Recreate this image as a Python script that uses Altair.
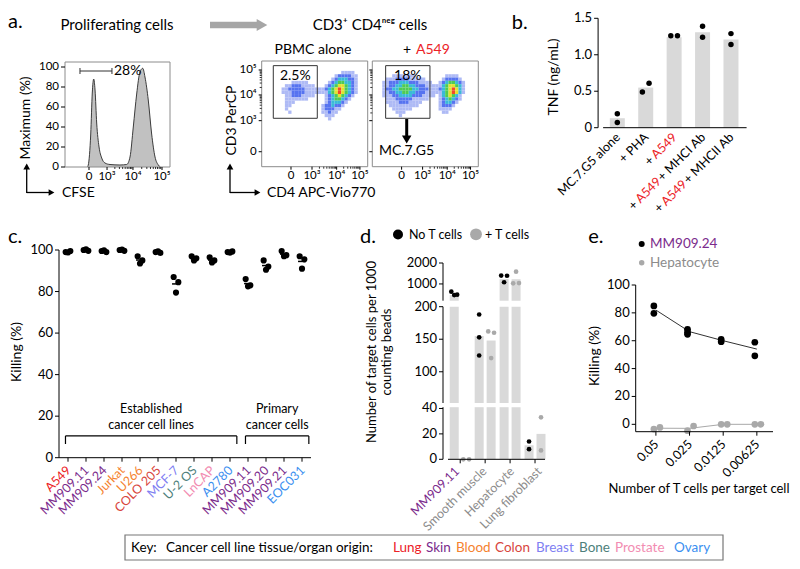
import re
import math
import altair as alt
import pandas as pd

W, H = 784, 553
FONT = "Lato"

# ============================ DATA ============================
# (a) CFSE histogram: display channel (0-1024) vs % of maximum
hist_channel = [218, 227, 251, 266, 280, 293, 309, 332, 358, 390, 439, 536, 602,
                634, 666, 699, 731, 758, 780, 812, 845, 878, 910, 930]
hist_pct = [0, 2, 33, 74, 88, 77, 44, 20, 9, 4, 2.5, 2, 2.5,
            10, 40, 73, 95, 98.7, 90, 67, 33, 10, 2, 0]
hist_gate_channels = [146, 458]
hist_gate_pct = 96
hist_gate_label = "28%"

decade_labels = ["0", "10³", "10⁴", "10⁵"]
hist_decade_channels = [234, 410, 663, 946]
flow_cd4_decade_channels = [283, 486, 724, 949]
flow_cd3_decade_channels = [145, 446, 695, 937]

flow_gate_labels = ["2.5%", "18%"]
flow_gates = [[112, 537, 469, 979], [129, 557, 469, 979]]  # CD4 lo/hi, CD3 lo/hi
flow_bin = 32
flow_top_rows = [28, 27]
# density maps (rows from top, one char per 32-channel bin, '.' = empty, 1-6 = density level)
flow1_density = [
    "........................1111....",
    "......................1222211...",
    ".....................12333221...",
    ".........11111......123443321...",
    ".......112221111...1234554321...",
    "......11222221111112345654321...",
    "......11122221111111345654321...",
    ".......112221111...123454321....",
    ".......1111111.....12344321.....",
    ".......111.........1233321......",
    ".......11.........1223221.......",
    ".......1..........122211........",
    "........1.........11211.........",
    "...................111..........",
    "....................1...........",
]
flow2_density = [
    "......1111111.........1111......",
    "....111222211111.....122221.....",
    "...112223332221111..12344321....",
    "...1122334433222111113455431....",
    "...1223344443322211123456531....",
    "...1122334433222111113456531....",
    "...1112233332221111.1345431.....",
    "....1112222211111...1234321.....",
    "....11112221111.....123321......",
    ".....111111111......12221.......",
    "......111111........1111........",
    ".......111...........11.........",
    "........1.......................",
]

# (b) TNF release
b_conditions = ["MC.7.G5 alone", "+ PHA", "+ A549", "+ A549 + MHCI Ab", "+ A549 + MHCII Ab"]
b_tnf_mean = [0.13, 0.55, 1.24, 1.31, 1.21]
b_rep1 = [0.19, 0.49, 1.26, 1.39, 1.29]
b_rep2 = [0.07, 0.61, 1.26, 1.24, 1.14]
b_rep_layout = ["stack", "side", "side", "stack", "stack"]
b_ticks = [0, 0.5, 1.0, 1.5]

# (c) killing of cancer lines
c_lines = ["A549", "MM909.11", "MM909.24", "Jurkat", "U266", "COLO 205", "MCF-7",
           "U-2 OS", "LnCAP", "A2780", "MM909.11", "MM909.20", "MM909.21", "EOC031"]
c_origin = ["Lung", "Skin", "Skin", "Blood", "Blood", "Colon", "Breast",
            "Bone", "Prostate", "Ovary", "Skin", "Skin", "Skin", "Ovary"]
c_rep1 = [99.0, 100.0, 99.5, 100.0, 97.0, 99.0, 87.0, 97.0, 96.5, 99.0, 86.0, 95.0, 99.5, 97.0]
c_rep2 = [99.5, 99.6, 99.0, 99.6, 95.0, 98.6, 84.5, 96.0, 95.0, 99.3, 83.0, 92.0, 97.5, 95.5]
c_rep3 = [98.8, 100.3, 99.8, 100.2, 93.5, 99.4, 79.5, 95.0, 94.0, 98.7, 82.5, 90.5, 97.0, 91.0]
c_groups = ["Established\ncancer cell lines", "Primary\ncancer cells"]
c_group_first = [0, 10]
c_group_last = [9, 13]
pct_ticks = [0, 20, 40, 60, 80, 100]

# (d) target cell counts
d_targets = ["MM909.11", "Smooth muscle", "Hepatocyte", "Lung fibroblast"]
d_bar_noT = [470, 155, 1236, 11]
d_bar_T = [0, 148, 1220, 20]
d_pts_noT = [[630, 490, 470], [188, 153, 125], [1400, 1390, 1080], [14, 8]]
d_side_noT = [["L", "R", "C"], ["C", "C", "C"], ["L", "R", "C"], ["C", "C"]]
d_pts_T = [[0, 0], [162, 160, 121], [1585, 1030, 1040], [33, 7]]
d_side_T = [["L", "R"], ["L", "R", "C"], ["C", "L", "R"], ["C", "C"]]

# (e) titration
e_ratio = ["0.05", "0.025", "0.0125", "0.00625"]
e_mm_mean = [82, 66.5, 60, 54]
e_mm_pts = [[85, 79.7], [68.2, 66.1, 64.6], [61, 59.3], [58.9, 49.2]]
e_hep_mean = [-2.8, -2.9, 0, 0]
e_hep_pts = [[-3.4, -2.2], [-4.6, -1.2], [0, 0], [0, 0]]

key_tissues = ["Lung", "Skin", "Blood", "Colon", "Breast", "Bone", "Prostate", "Ovary"]

# ============================ STYLE ============================
TISSUE_COLORS = {"Lung": "#ec2227", "Skin": "#7b2b8c", "Blood": "#f5822f", "Colon": "#d8453d",
                 "Breast": "#8080f2", "Bone": "#4e7f7b", "Prostate": "#f28db2", "Ovary": "#3c8ff0"}
RED = "#ec2227"
PURPLE = "#7b2b8c"
GREY_TXT = "#8c8c8c"
BAR = "#d9d9d9"
PT_GREY = "#a9a9a9"
FRAME = "#8c8c8c"
DENS_COLORS = ["#aab6f4", "#4d6bef", "#2fb6d6", "#45c84a", "#e2e023", "#f0401f"]
JIT = {"L": -0.13, "C": 0.0, "R": 0.13}
LBL = 12.5
TICKLBL = 12.5
LATO_EM = {" ": 0.193, "+": 0.58, "A": 0.68, "M": 0.89, "H": 0.76, "C": 0.66, "I": 0.30,
           "b": 0.565, "P": 0.64, "G": 0.72}
for d_ in "0123456789":
    LATO_EM[d_] = 0.58


def text_w(s, size):
    return size * sum(LATO_EM.get(ch, 0.55) for ch in s)


one = pd.DataFrame({"_": [0]})


def note(text, x, y, size=14, color="black", align="left", angle=0, baseline="middle"):
    kw = dict(text=text, fontSize=size, color=color, align=align, baseline=baseline, font=FONT)
    if angle:
        kw["angle"] = angle
    return alt.Chart(one).mark_text(**kw).encode(x=alt.value(x), y=alt.value(y))


def seg(x1, y1, x2, y2, color="black", width=1.3):
    return alt.Chart(one).mark_rule(color=color, strokeWidth=width).encode(
        x=alt.value(x1), y=alt.value(y1), x2=alt.value(x2), y2=alt.value(y2))


def head(x, y, shape, size, color="black"):
    return alt.Chart(one).mark_point(shape=shape, size=size, filled=True, color=color,
                                     opacity=1, strokeWidth=0).encode(x=alt.value(x), y=alt.value(y))


def S(domain, rng):
    return alt.Scale(domain=domain, range=rng, nice=False, zero=False)


def x_axis(scale, y, values, labels=None, domain=None, size=TICKLBL, tick=4, dom_color="black",
           tick_w=1, pad=1.5):
    out = []
    if domain:
        out.append(alt.Chart(pd.DataFrame({"a": [domain[0]], "b": [domain[1]]})).mark_rule(
            color=dom_color, strokeWidth=1).encode(
            x=alt.X("a:Q", scale=scale, axis=None), x2="b:Q", y=alt.value(y)))
    if tick > 0:
        out.append(alt.Chart(pd.DataFrame({"v": values})).mark_rule(color="black", strokeWidth=tick_w).encode(
            x=alt.X("v:Q", scale=scale, axis=None), y=alt.value(y), y2=alt.value(y + tick)))
    if labels:
        out.append(alt.Chart(pd.DataFrame({"v": values, "t": labels})).mark_text(
            baseline="top", fontSize=size, font=FONT, color="black").encode(
            x=alt.X("v:Q", scale=scale, axis=None), y=alt.value(y + tick + pad), text="t:N"))
    return out


def y_axis(scale, x, values, labels=None, domain=None, size=TICKLBL, tick=4, dom_color="black", tick_w=1):
    out = []
    if domain:
        out.append(alt.Chart(pd.DataFrame({"a": [domain[0]], "b": [domain[1]]})).mark_rule(
            color=dom_color, strokeWidth=1).encode(
            y=alt.Y("a:Q", scale=scale, axis=None), y2="b:Q", x=alt.value(x)))
    out.append(alt.Chart(pd.DataFrame({"v": values})).mark_rule(color="black", strokeWidth=tick_w).encode(
        y=alt.Y("v:Q", scale=scale, axis=None), x=alt.value(x - tick), x2=alt.value(x)))
    if labels:
        out.append(alt.Chart(pd.DataFrame({"v": values, "t": labels})).mark_text(
            align="right", baseline="middle", fontSize=size, font=FONT, color="black").encode(
            y=alt.Y("v:Q", scale=scale, axis=None), x=alt.value(x - tick - 2), text="t:N"))
    return out


def minor_channels(decades):
    # log-spaced minor tick positions between consecutive decade channels (2x..9x)
    res = []
    for a, b in zip(decades[1:-1], decades[2:]):
        for m in range(2, 10):
            res.append(a + (b - a) * math.log10(m))
    return res


layers = []

# ============================ PANEL a ============================
hx = S([0, 1024], [57, 162])
hy = S([0, 105], [159, 54])
hist_df = pd.DataFrame({"ch": hist_channel, "pct": hist_pct})
hist = alt.Chart(hist_df).mark_area(color="#a6a6a6", interpolate="monotone",
                                    line={"color": "#3c3c3c", "strokeWidth": 1}).encode(
    x=alt.X("ch:Q", scale=hx, axis=None), y=alt.Y("pct:Q", scale=hy, axis=None))
hframe = alt.Chart(pd.DataFrame({"a": [0], "b": [1024], "c": [0], "d": [105]})).mark_rect(
    fillOpacity=0, stroke=FRAME, strokeWidth=1).encode(
    x=alt.X("a:Q", scale=hx, axis=None), x2="b:Q", y=alt.Y("c:Q", scale=hy, axis=None), y2="d:Q")
gate_df = pd.DataFrame({"x0": [hist_gate_channels[0]], "x1": [hist_gate_channels[1]],
                        "y": [hist_gate_pct], "lab": [hist_gate_label]})
hgate = alt.Chart(gate_df).mark_rule(color="#333", strokeWidth=1).encode(
    x=alt.X("x0:Q", scale=hx, axis=None), x2="x1:Q", y=alt.Y("y:Q", scale=hy, axis=None))
caps_df = pd.DataFrame({"x": hist_gate_channels, "y0": [hist_gate_pct - 3] * 2, "y1": [hist_gate_pct + 3] * 2})
hcaps = alt.Chart(caps_df).mark_rule(color="#333", strokeWidth=1).encode(
    x=alt.X("x:Q", scale=hx, axis=None), y=alt.Y("y0:Q", scale=hy, axis=None), y2="y1:Q")
hlab = alt.Chart(gate_df).mark_text(align="left", baseline="middle", fontSize=14, font=FONT, dx=2).encode(
    x=alt.X("x1:Q", scale=hx, axis=None), y=alt.Y("y:Q", scale=hy, axis=None), text="lab:N")
hist_layers = [hist, hframe, hgate, hcaps, hlab]
hist_layers += x_axis(hx, 159, hist_decade_channels, decade_labels, size=11.5, tick=3, pad=0.5)
hist_layers += x_axis(hx, 159, minor_channels(hist_decade_channels), tick=2, tick_w=0.8)
hist_layers += y_axis(hy, 57, pct_ticks, [str(v) for v in pct_ticks], size=11.5)
layers.append(alt.layer(*hist_layers))


def density_df(rows, top):
    recs = []
    for k, row in enumerate(rows):
        r = top - k
        for c, ch in enumerate(row):
            if ch != ".":
                recs.append({"x0": c * flow_bin, "x1": (c + 1) * flow_bin,
                             "y0": r * flow_bin, "y1": (r + 1) * flow_bin, "lvl": int(ch)})
    return pd.DataFrame(recs)


def flow_panel(rows, top, xr, gate, gate_label, ylabels):
    fx = S([0, 1024], xr)
    fy = S([0, 1024], [158.7, 53])
    df = density_df(rows, top)
    cells = alt.Chart(df).mark_rect(opacity=0.95).encode(
        x=alt.X("x0:Q", scale=fx, axis=None), x2="x1:Q",
        y=alt.Y("y0:Q", scale=fy, axis=None), y2="y1:Q",
        color=alt.Color("lvl:O", scale=alt.Scale(domain=[1, 2, 3, 4, 5, 6], range=DENS_COLORS), legend=None))
    frame = alt.Chart(pd.DataFrame({"a": [0], "b": [1024], "c": [0], "d": [1024]})).mark_rect(
        fillOpacity=0, stroke=FRAME, strokeWidth=1).encode(
        x=alt.X("a:Q", scale=fx, axis=None), x2="b:Q", y=alt.Y("c:Q", scale=fy, axis=None), y2="d:Q")
    gdf = pd.DataFrame({"a": [gate[0]], "b": [gate[1]], "c": [gate[2]], "d": [gate[3]],
                        "mx": [(gate[0] + gate[1]) / 2], "lab": [gate_label]})
    grect = alt.Chart(gdf).mark_rect(fillOpacity=0, stroke="#333", strokeWidth=1).encode(
        x=alt.X("a:Q", scale=fx, axis=None), x2="b:Q", y=alt.Y("c:Q", scale=fy, axis=None), y2="d:Q")
    glab = alt.Chart(gdf).mark_text(fontSize=14, font=FONT, baseline="top", dy=3).encode(
        x=alt.X("mx:Q", scale=fx, axis=None), y=alt.Y("d:Q", scale=fy, axis=None), text="lab:N")
    lay = [cells, frame, grect, glab]
    lay += x_axis(fx, 158.7, flow_cd4_decade_channels, decade_labels, size=11.5, tick=3, pad=0.5)
    lay += x_axis(fx, 158.7, minor_channels(flow_cd4_decade_channels), tick=2, tick_w=0.8)
    lay += y_axis(fy, xr[0], flow_cd3_decade_channels, decade_labels if ylabels else None, size=11.5, tick=3)
    lay += y_axis(fy, xr[0], minor_channels(flow_cd3_decade_channels), tick=2, tick_w=0.8)
    return alt.layer(*lay)


layers.append(flow_panel(flow1_density, flow_top_rows[0], [253.7, 359.7], flow_gates[0], flow_gate_labels[0], True))
layers.append(flow_panel(flow2_density, flow_top_rows[1], [364.3, 470.3], flow_gates[1], flow_gate_labels[1], False))

# panel a annotations
layers += [
    note("a.", 0, 14, size=20),
    note("Proliferating cells", 109, 17, size=15, align="center"),
    seg(202, 17, 250, 17, color="#a6a6a6", width=6.5),
    head(254, 17, "triangle-right", 150, color="#a6a6a6"),
    note("CD3⁺ CD4ⁿᵉᵍ cells", 362, 17, size=15, align="center"),
    note("PBMC alone", 305, 42, size=14, align="center"),
    note("+", 399, 42, size=14, align="center"),
    note("A549", 408, 42, size=14, color=RED),
    note("Maximum (%)", 18, 110, size=14, align="center", angle=270),
    seg(18.7, 185, 18.7, 161),
    head(18.7, 158.5, "triangle-up", 45),
    seg(18.7, 184.5, 41, 184.5),
    head(43.5, 184.5, "triangle-right", 45),
    note("CFSE", 54, 185, size=14),
    note("CD3 PerCP", 223.7, 112.5, size=14, align="center", angle=270),
    seg(222, 185, 222, 161),
    head(222, 158.5, "triangle-up", 45),
    seg(222, 184.5, 247, 184.5),
    head(249.5, 184.5, "triangle-right", 45),
    note("CD4 APC-Vio770", 259, 185, size=14),
    seg(398.7, 111, 398.7, 128, width=3),
    head(398.7, 131.5, "triangle-down", 90),
    note("MC.7.G5", 398.5, 143, size=14, align="center"),
]

# ============================ PANEL b ============================
bx = S([-0.5, 4.55], [590.1, 743.6])
by = S([0, 1.5], [119.7, 10.3])
b_df = pd.DataFrame({"i": list(range(len(b_conditions))), "tnf": b_tnf_mean, "zero": 0.0})
b_pts = []
for i, (r1, r2, lay) in enumerate(zip(b_rep1, b_rep2, b_rep_layout)):
    sides = ["L", "R"] if lay == "side" else ["C", "C"]
    for v, s in zip([r1, r2], sides):
        b_pts.append({"xj": i + JIT[s] * 0.9, "v": v})
b_pts = pd.DataFrame(b_pts)
b_bars = alt.Chart(b_df).mark_bar(color=BAR, size=15).encode(
    x=alt.X("i:Q", scale=bx, axis=None), y=alt.Y("tnf:Q", scale=by, axis=None), y2="zero:Q")
b_dots = alt.Chart(b_pts).mark_circle(color="black", size=30, opacity=1).encode(
    x=alt.X("xj:Q", scale=bx, axis=None), y=alt.Y("v:Q", scale=by, axis=None))
b_layers = [b_bars, b_dots]
b_layers += x_axis(bx, 119.7, list(range(5)), domain=[-0.5, 4.55], tick=0)
b_layers += y_axis(by, 590.1, b_ticks, ["0" if v == 0 else f"{v:.1f}" for v in b_ticks],
                   domain=[0, 1.5], size=13)


def label_segments(label):
    parts = re.split(r"(A549)", label)
    out, off = [], 0.0
    for p in reversed(parts):
        if p == "":
            continue
        off += (len(p) - len(p.rstrip(" "))) * text_w(" ", LBL)
        core = p.strip(" ")
        if core:
            out.append((core, RED if core == "A549" else "black", -off))
            off += text_w(core, LBL)
        off += (len(p) - len(p.lstrip(" "))) * text_w(" ", LBL)
    return out


for i, cond in enumerate(b_conditions):
    for core, col, dxv in label_segments(cond):
        b_layers.append(alt.Chart(pd.DataFrame({"i": [i], "t": [core]})).mark_text(
            angle=315, align="right", baseline="middle", fontSize=LBL, font=FONT, color=col, dx=dxv + 1).encode(
            x=alt.X("i:Q", scale=bx, axis=None), y=alt.value(128), text="t:N"))
layers.append(alt.layer(*b_layers))
layers += [
    note("b.", 503.7, 15, size=20),
    note("TNF (ng/mL)", 546, 69, size=14, align="center", angle=270),
]

# ============================ PANEL c ============================
cx = S([-0.5, 13.5], [51, 303])
cy = S([0, 100], [449.7, 242])
c_rows, c_mean_rows = [], []
for i in range(len(c_lines)):
    vals = [c_rep1[i], c_rep2[i], c_rep3[i]]
    for v, s in zip(vals, ["L", "R", "C"]):
        c_rows.append({"xj": i + JIT[s], "v": v})
    c_mean_rows.append({"xl": i - 0.22, "xr": i + 0.22, "m": sum(vals) / len(vals)})
c_pts = pd.DataFrame(c_rows)
c_means = pd.DataFrame(c_mean_rows)
c_lab = pd.DataFrame({"i": list(range(len(c_lines))), "name": c_lines,
                      "col": [TISSUE_COLORS[o] for o in c_origin]})
c_dots = alt.Chart(c_pts).mark_circle(color="black", size=38, opacity=1).encode(
    x=alt.X("xj:Q", scale=cx, axis=None), y=alt.Y("v:Q", scale=cy, axis=None))
c_mean = alt.Chart(c_means).mark_rule(color="black", strokeWidth=1.5).encode(
    x=alt.X("xl:Q", scale=cx, axis=None), x2="xr:Q", y=alt.Y("m:Q", scale=cy, axis=None))
c_text = alt.Chart(c_lab).mark_text(angle=315, align="right", baseline="middle", fontSize=LBL,
                                    font=FONT, dx=1).encode(
    x=alt.X("i:Q", scale=cx, axis=None), y=alt.value(461), text="name:N",
    color=alt.Color("col:N", scale=None))
br_h, br_v, br_t = [], [], []
for g, f, l in zip(c_groups, c_group_first, c_group_last):
    x0, x1 = f - 0.14, l + 0.38
    br_h.append({"x0": x0, "x1": x1, "y": 10.5})
    br_v += [{"x": x0, "y0": 6.6, "y1": 10.5}, {"x": x1, "y0": 6.6, "y1": 10.5}]
    l1, l2 = g.split("\n")
    br_t += [{"x": (x0 + x1) / 2, "y": 23.6, "t": l1}, {"x": (x0 + x1) / 2, "y": 15.9, "t": l2}]
c_brh = alt.Chart(pd.DataFrame(br_h)).mark_rule(color="black", strokeWidth=1.2).encode(
    x=alt.X("x0:Q", scale=cx, axis=None), x2="x1:Q", y=alt.Y("y:Q", scale=cy, axis=None))
c_brv = alt.Chart(pd.DataFrame(br_v)).mark_rule(color="black", strokeWidth=1.2).encode(
    x=alt.X("x:Q", scale=cx, axis=None), y=alt.Y("y0:Q", scale=cy, axis=None), y2="y1:Q")
c_brt = alt.Chart(pd.DataFrame(br_t)).mark_text(fontSize=12.5, font=FONT, baseline="middle").encode(
    x=alt.X("x:Q", scale=cx, axis=None), y=alt.Y("y:Q", scale=cy, axis=None), text="t:N")
c_layers = [c_dots, c_mean, c_text, c_brh, c_brv, c_brt]
c_layers += x_axis(cx, 449.7, list(range(len(c_lines))), domain=[-0.5, 13.5])
c_layers += y_axis(cy, 51, pct_ticks, [str(v) for v in pct_ticks], domain=[0, 100], size=13)
layers.append(alt.layer(*c_layers))
layers += [
    note("c.", 0, 229, size=20),
    note("Killing (%)", 9, 344, size=14, align="center", angle=270),
]

# ============================ PANEL d ============================
dxs = S([-0.49, 3.4], [435, 542])
d_bar_rows, d_pt_rows = [], []
for i in range(len(d_targets)):
    d_bar_rows.append({"x": i - 0.24, "v": d_bar_noT[i]})
    d_bar_rows.append({"x": i + 0.24, "v": d_bar_T[i]})
    for v, s in zip(d_pts_noT[i], d_side_noT[i]):
        d_pt_rows.append({"x": i - 0.24 + JIT[s] * 0.9, "v": v, "grp": "No T cells"})
    for v, s in zip(d_pts_T[i], d_side_T[i]):
        d_pt_rows.append({"x": i + 0.24 + JIT[s] * 0.9, "v": v, "grp": "+ T cells"})
d_bar_df = pd.DataFrame(d_bar_rows)
d_pt_df = pd.DataFrame(d_pt_rows)
d_segments = [(0, 41, [451.3, 399.2], [0, 20, 40], True),
              (52, 200, [395, 298.7], [100, 150, 200], False),
              (200, 2000, [292.7, 255], [1000, 2000], False)]
for lo, hi, rng, ticks, bottom in d_segments:
    sy = S([lo, hi], rng)
    bdf = d_bar_df[d_bar_df.v > lo].copy()
    bdf["lo"] = lo
    bdf["hi"] = bdf.v.clip(upper=hi)
    if hi == 200:
        pdf = d_pt_df[(d_pt_df.v >= lo) & (d_pt_df.v < 200)]
    elif lo == 200:
        pdf = d_pt_df[d_pt_df.v >= 200]
    else:
        pdf = d_pt_df[d_pt_df.v <= hi]
    bars = alt.Chart(bdf).mark_bar(color=BAR, size=9).encode(
        x=alt.X("x:Q", scale=dxs, axis=None), y=alt.Y("lo:Q", scale=sy, axis=None), y2="hi:Q")
    pts = alt.Chart(pdf).mark_circle(size=22, opacity=1).encode(
        x=alt.X("x:Q", scale=dxs, axis=None), y=alt.Y("v:Q", scale=sy, axis=None),
        color=alt.Color("grp:N", scale=alt.Scale(domain=["No T cells", "+ T cells"],
                                                 range=["black", PT_GREY]), legend=None))
    seg_layers = [bars, pts]
    seg_layers += y_axis(sy, 435, ticks, [str(t) for t in ticks], domain=[lo, hi], size=13)
    if bottom:
        seg_layers += x_axis(dxs, 451.3, [0, 1, 2, 3], domain=[-0.49, 3.4])
    layers.append(alt.layer(*seg_layers))
d_lab = pd.DataFrame({"i": list(range(len(d_targets))), "name": d_targets,
                      "col": [PURPLE] + [GREY_TXT] * 3})
layers.append(alt.Chart(d_lab).mark_text(angle=315, align="right", baseline="middle", fontSize=LBL,
                                         font=FONT, dx=1).encode(
    x=alt.X("i:Q", scale=dxs, axis=None), y=alt.value(462), text="name:N",
    color=alt.Color("col:N", scale=None)))
layers += [
    note("d.", 352, 229, size=20),
    head(390, 226.5, "circle", 100),
    note("No T cells", 401, 226.5, size=12.5),
    head(468, 226.3, "circle", 140, color=PT_GREY),
    note("+ T cells", 477, 226.5, size=12.5),
    note("Number of target cells per 1000", 363.7, 344, size=13, align="center", angle=270),
    note("counting beads", 378.7, 344, size=13, align="center", angle=270),
]

# ============================ PANEL e ============================
ex = S([-0.6, 3.48], [627.7, 765])
ey = S([-5.3, 100], [423.7, 277])
e_line = pd.DataFrame({"i": list(range(4)) * 2, "m": e_mm_mean + e_hep_mean,
                       "s": ["MM909.24"] * 4 + ["Hepatocyte"] * 4})
e_rows = []
for i in range(4):
    for v in e_mm_pts[i]:
        e_rows.append({"x": i - 0.06, "v": v, "s": "MM909.24"})
    for v, s in zip(e_hep_pts[i], ["L", "R"]):
        e_rows.append({"x": i + (-0.06 if s == "L" else 0.12), "v": v, "s": "Hepatocyte"})
e_pts = pd.DataFrame(e_rows)
e_lines = alt.Chart(e_line).mark_line(strokeWidth=1).encode(
    x=alt.X("i:Q", scale=ex, axis=None), y=alt.Y("m:Q", scale=ey, axis=None),
    color=alt.Color("s:N", scale=alt.Scale(domain=["MM909.24", "Hepatocyte"], range=["#333333", PT_GREY]),
                    legend=None), detail="s:N")
e_dots = alt.Chart(e_pts).mark_circle(size=45, opacity=1).encode(
    x=alt.X("x:Q", scale=ex, axis=None), y=alt.Y("v:Q", scale=ey, axis=None),
    color=alt.Color("s:N", scale=alt.Scale(domain=["MM909.24", "Hepatocyte"], range=["black", PT_GREY]),
                    legend=None))
e_lab = alt.Chart(pd.DataFrame({"i": list(range(4)), "t": e_ratio})).mark_text(
    angle=315, align="right", baseline="middle", fontSize=LBL, font=FONT, dx=1).encode(
    x=alt.X("i:Q", scale=ex, axis=None), y=alt.value(435), text="t:N")
e_layers = [e_lines, e_dots, e_lab]
e_layers += x_axis(ex, 423.7, [0, 1, 2, 3], domain=[-0.6, 3.48])
e_layers += y_axis(ey, 627.7, pct_ticks, [str(v) for v in pct_ticks], domain=[-5.3, 100], size=13)
layers.append(alt.layer(*e_layers).resolve_scale(color="independent"))
layers += [
    note("e.", 580.3, 229, size=20),
    head(633.7, 236, "circle", 36),
    note("MM909.24", 642, 236, size=13.5, color=PURPLE),
    head(633.7, 254.7, "circle", 30, color=PT_GREY),
    note("Hepatocyte", 642, 254.7, size=13.5, color=GREY_TXT),
    note("Killing (%)", 587, 348, size=14, align="center", angle=270),
    note("Number of T cells per target cell", 691, 481, size=13, align="center"),
]

# ============================ KEY ============================
layers.append(alt.Chart(one).mark_rect(fillOpacity=0, stroke="#777777", strokeWidth=1.2).encode(
    x=alt.value(117), x2=alt.value(715), y=alt.value(527), y2=alt.value(552)))
layers.append(note("Key:", 123, 540, size=13.5))
layers.append(note("Cancer cell line tissue/organ origin:", 158, 540, size=13.5))
key_x = [385, 418, 448, 487, 528, 571, 607, 666]
for t, kx in zip(key_tissues, key_x):
    layers.append(note(t, kx, 540, size=13.5, color=TISSUE_COLORS[t]))

chart = alt.layer(*layers).resolve_scale(
    x="independent", y="independent", color="independent").properties(
    width=W, height=H, autosize=alt.AutoSizeParams(type="none"), padding=0).configure_view(strokeWidth=0)

chart.save("out.html", embed_options={"renderer": "svg", "actions": False})
